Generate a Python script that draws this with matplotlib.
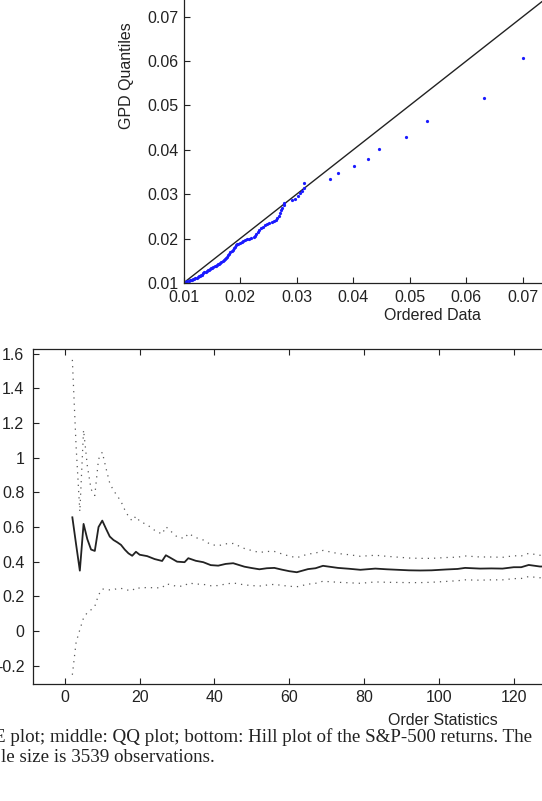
import matplotlib
matplotlib.use("Agg")
import matplotlib.pyplot as plt

# -----------------------------
# QQ plot data (ordered data vs GPD quantiles)
# -----------------------------
ordered_data = [
    0.0100, 0.0101, 0.0102, 0.0103, 0.0104, 0.0105, 0.0107, 0.0109, 0.0111, 0.0113,
    0.0115, 0.0117, 0.0119, 0.0121, 0.0123, 0.0125, 0.0127, 0.0129, 0.0131, 0.0133,
    0.0135, 0.0137, 0.0139, 0.0141, 0.0143, 0.0145, 0.0147, 0.0149, 0.0151, 0.0153,
    0.0155, 0.0157, 0.0159, 0.0161, 0.0163, 0.0165, 0.0167, 0.0169, 0.0171, 0.0173,
    0.0175, 0.0177, 0.0179, 0.0181, 0.0183, 0.0185, 0.0187, 0.0189, 0.0191, 0.0193,
    0.0195, 0.0197, 0.0200, 0.0203, 0.0206, 0.0209, 0.0212, 0.0216, 0.0219, 0.0224,
    0.0226, 0.0228, 0.0231, 0.0234, 0.0237, 0.0240, 0.0244, 0.0248, 0.0252, 0.0256,
    0.0260, 0.0263, 0.0266, 0.0269, 0.0271, 0.0273, 0.0275, 0.0277, 0.0278, 0.0292,
    0.0297, 0.0302, 0.0306, 0.0310, 0.0313, 0.0314, 0.0360, 0.0373, 0.0401, 0.0427,
    0.0446, 0.0493, 0.0530, 0.0632, 0.0700,
]
gpd_quantiles = [
    0.01000, 0.01005, 0.01010, 0.01015, 0.01020, 0.01025, 0.01035, 0.01047, 0.01058, 0.01068,
    0.01078, 0.01088, 0.01100, 0.01110, 0.01122, 0.01135, 0.01148, 0.01160, 0.01172, 0.01190,
    0.01225, 0.01242, 0.01258, 0.01270, 0.01283, 0.01297, 0.01312, 0.01328, 0.01345, 0.01360,
    0.01375, 0.01390, 0.01405, 0.01418, 0.01432, 0.01450, 0.01468, 0.01488, 0.01510, 0.01535,
    0.01565, 0.01595, 0.01625, 0.01655, 0.01688, 0.01720, 0.01752, 0.01785, 0.01815, 0.01850,
    0.01875, 0.01890, 0.01910, 0.01930, 0.01950, 0.01970, 0.01985, 0.01995, 0.02010, 0.02040,
    0.02070, 0.02110, 0.02150, 0.02190, 0.02230, 0.02270, 0.02300, 0.02330, 0.02350, 0.02370,
    0.02390, 0.02420, 0.02460, 0.02510, 0.02570, 0.02640, 0.02700, 0.02760, 0.02800, 0.02860,
    0.02900, 0.02950, 0.03020, 0.03080, 0.03150, 0.03250, 0.03350, 0.03480, 0.03640, 0.03800,
    0.04010, 0.04280, 0.04640, 0.05170, 0.06080,
]
ref_line = [0.01, 0.10]
qq_ticks = [0.01, 0.02, 0.03, 0.04, 0.05, 0.06, 0.07]
qq_ticklabels = ["0.01", "0.02", "0.03", "0.04", "0.05", "0.06", "0.07"]

# -----------------------------
# Hill plot data
# -----------------------------
order_k = [2, 3, 4, 5, 6, 7, 8, 9, 10, 11, 12, 13, 14, 15, 16, 17, 18, 19, 20,
           22, 24, 26, 27, 28, 30, 32, 33, 35, 37, 39, 41, 43, 45, 48, 50, 52, 54,
           56, 58, 60, 62, 65, 67, 69, 71, 73, 76, 79, 83, 86, 89, 92, 95, 98, 102,
           105, 107, 111, 114, 117, 120, 122, 124, 127, 130]
hill_est = [0.656, 0.500, 0.348, 0.618, 0.530, 0.470, 0.462, 0.600, 0.637, 0.590,
            0.545, 0.525, 0.512, 0.497, 0.470, 0.448, 0.434, 0.457, 0.440,
            0.432, 0.415, 0.404, 0.437, 0.425, 0.400, 0.397, 0.420, 0.405, 0.397,
            0.380, 0.377, 0.387, 0.391, 0.371, 0.363, 0.356, 0.362,
            0.364, 0.354, 0.345, 0.339, 0.357, 0.362, 0.376, 0.370, 0.364, 0.359,
            0.353, 0.360, 0.356, 0.353, 0.350, 0.349, 0.350, 0.355,
            0.358, 0.364, 0.360, 0.361, 0.360, 0.368, 0.368, 0.381, 0.372, 0.372]
hill_upper = [1.565, 1.066, 0.689, 1.160, 0.954, 0.818, 0.782, 0.992, 1.032, 0.939,
              0.853, 0.811, 0.780, 0.748, 0.700, 0.661, 0.635, 0.663, 0.633,
              0.613, 0.581, 0.559, 0.602, 0.582, 0.543, 0.534, 0.563, 0.539, 0.525,
              0.499, 0.492, 0.503, 0.505, 0.476, 0.464, 0.453, 0.459,
              0.459, 0.445, 0.432, 0.423, 0.444, 0.449, 0.465, 0.456, 0.447, 0.440,
              0.431, 0.437, 0.431, 0.426, 0.421, 0.419, 0.419, 0.424,
              0.426, 0.433, 0.427, 0.427, 0.425, 0.434, 0.433, 0.448, 0.437, 0.436]
hill_lower = [-0.253, -0.066, 0.007, 0.076, 0.106, 0.122, 0.142, 0.208, 0.242, 0.241,
              0.237, 0.239, 0.244, 0.246, 0.240, 0.235, 0.233, 0.251, 0.247,
              0.251, 0.249, 0.249, 0.272, 0.268, 0.257, 0.260, 0.277, 0.271, 0.269,
              0.261, 0.262, 0.271, 0.277, 0.266, 0.262, 0.259, 0.265,
              0.269, 0.263, 0.258, 0.255, 0.270, 0.275, 0.287, 0.284, 0.281, 0.278,
              0.275, 0.283, 0.281, 0.280, 0.279, 0.279, 0.281, 0.286,
              0.290, 0.295, 0.293, 0.295, 0.295, 0.302, 0.303, 0.314, 0.307, 0.308]
hill_xticks = [0, 20, 40, 60, 80, 100, 120]
hill_yticks = [-0.2, 0, 0.2, 0.4, 0.6, 0.8, 1.0, 1.2, 1.4, 1.6]
hill_yticklabels = ["-0.2", "0", "0.2", "0.4", "0.6", "0.8", "1", "1.2", "1.4", "1.6"]

caption_lines = [
    "E plot; middle: QQ plot; bottom: Hill plot of the S&P-500 returns. The",
    "le size is 3539 observations.",
]

plt.rcParams["font.family"] = ["Liberation Sans", "DejaVu Sans"]
W, H = 542, 801
fig = plt.figure(figsize=(W / 100, H / 100), dpi=100)
fig.patch.set_facecolor("white")

# -----------------------------
# QQ plot (cropped at top/right like the page)
# -----------------------------
ax_qq = fig.add_axes([183.5 / W, (H - 283) / H, 508.8 / W, 399.4 / H])
ax_qq.plot(ref_line, ref_line, color="#222222", lw=1.0)
ax_qq.plot(ordered_data, gpd_quantiles, linestyle="none", marker=".",
           markersize=2.6, color="#1a1aff")
ax_qq.set_xlim(0.01, 0.10)
ax_qq.set_ylim(0.01, 0.10)
ax_qq.set_xticks(qq_ticks, labels=qq_ticklabels)
ax_qq.set_yticks(qq_ticks, labels=qq_ticklabels)
ax_qq.tick_params(direction="in", top=True, right=True, length=4, width=0.8,
                  labelsize=11.5, colors="#222222")
ax_qq.tick_params(axis="x", pad=5)
ax_qq.tick_params(axis="y", pad=3.5)
ax_qq.set_xlabel("Ordered Data", fontsize=11.5, color="#222222")
ax_qq.set_ylabel("GPD Quantiles", fontsize=11.5, color="#222222")
ax_qq.xaxis.set_label_coords(0.490, -0.0626)
ax_qq.yaxis.set_label_coords(-0.0973, 0.518)
for s in ax_qq.spines.values():
    s.set_linewidth(0.9)
    s.set_color("#222222")

# -----------------------------
# Hill plot
# -----------------------------
ax_h = fig.add_axes([32.7 / W, (H - 684.3) / H, 817.7 / W, 335 / H])
ax_h.plot(order_k, hill_upper, color="0.35", lw=0.9, linestyle=(0, (1, 4)))
ax_h.plot(order_k, hill_lower, color="0.35", lw=0.9, linestyle=(0, (1, 4)))
ax_h.plot(order_k, hill_est, color="#222222", lw=1.3)
ax_h.set_xlim(-8.6, 210)
ax_h.set_ylim(-0.308, 1.626)
ax_h.set_xticks(hill_xticks)
ax_h.set_yticks(hill_yticks, labels=hill_yticklabels)
ax_h.tick_params(direction="in", top=True, right=True, length=4, width=0.8,
                 labelsize=11.5, colors="#222222")
ax_h.tick_params(axis="x", pad=4)
ax_h.tick_params(axis="y", pad=6)
ax_h.set_xlabel("Order Statistics", fontsize=11.5, color="#222222")
ax_h.xaxis.set_label_coords(0.5018, -0.0857)
for s in ax_h.spines.values():
    s.set_linewidth(0.9)
    s.set_color("#222222")

# -----------------------------
# Caption (cut off like the page)
# -----------------------------
fig.text(-6 / W, 1 - 742 / H, caption_lines[0], fontsize=13.7,
         family=["Liberation Serif", "DejaVu Serif"], color="#222222",
         ha="left", va="baseline")
fig.text(1 / W, 1 - 762 / H, caption_lines[1], fontsize=13.7,
         family=["Liberation Serif", "DejaVu Serif"], color="#222222",
         ha="left", va="baseline")

fig.savefig("out.png", dpi=100)
